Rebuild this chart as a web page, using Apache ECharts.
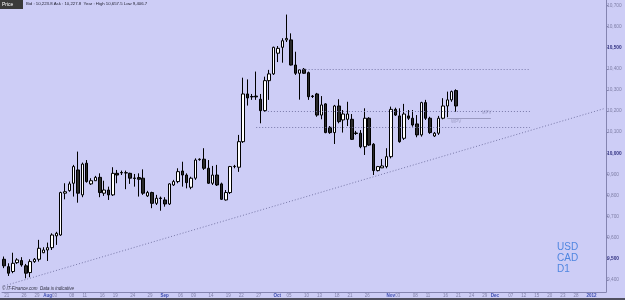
<!DOCTYPE html>
<html>
<head>
<meta charset="utf-8">
<script src="https://cdn.jsdelivr.net/npm/echarts@6/dist/echarts.min.js"></script>
<style>
  html, body { margin: 0; padding: 0; background: #cdcdf6; }
  #chart { width: 625px; height: 300px; }
</style>
</head>
<body>
<div id="chart"></div>
<script>
// daily bars (FX feed with Sunday bars), then empty future weekdays
var dates = [
  '2011-07-21','2011-07-22','2011-07-24','2011-07-25','2011-07-26','2011-07-27','2011-07-28','2011-07-29','2011-07-31',
  '2011-08-01','2011-08-02','2011-08-03','2011-08-04','2011-08-05','2011-08-07','2011-08-08','2011-08-09','2011-08-10',
  '2011-08-11','2011-08-12','2011-08-14','2011-08-15','2011-08-16','2011-08-17','2011-08-18','2011-08-19','2011-08-21',
  '2011-08-22','2011-08-23','2011-08-24','2011-08-25','2011-08-26','2011-08-28','2011-08-29','2011-08-30','2011-08-31',
  '2011-09-01','2011-09-02','2011-09-04','2011-09-05','2011-09-06','2011-09-07','2011-09-08','2011-09-09','2011-09-11',
  '2011-09-12','2011-09-13','2011-09-14','2011-09-15','2011-09-16','2011-09-18','2011-09-19','2011-09-20','2011-09-21',
  '2011-09-22','2011-09-23','2011-09-25','2011-09-26','2011-09-27','2011-09-28','2011-09-29','2011-09-30',
  '2011-10-02','2011-10-03','2011-10-04','2011-10-05','2011-10-06','2011-10-07','2011-10-09','2011-10-10','2011-10-11',
  '2011-10-12','2011-10-13','2011-10-14','2011-10-16','2011-10-17','2011-10-18','2011-10-19','2011-10-20','2011-10-21',
  '2011-10-23','2011-10-24','2011-10-25','2011-10-26','2011-10-27','2011-10-28','2011-10-30','2011-10-31',
  '2011-11-01','2011-11-02','2011-11-03','2011-11-04','2011-11-06','2011-11-07','2011-11-08','2011-11-09','2011-11-10',
  '2011-11-11','2011-11-13','2011-11-14','2011-11-15','2011-11-16','2011-11-17','2011-11-18','2011-11-21',
  '2011-11-22','2011-11-23','2011-11-24','2011-11-25','2011-11-28','2011-11-29','2011-11-30',
  '2011-12-01','2011-12-02','2011-12-05','2011-12-06','2011-12-07','2011-12-08','2011-12-09','2011-12-12','2011-12-13',
  '2011-12-14','2011-12-15','2011-12-16','2011-12-19','2011-12-20','2011-12-21','2011-12-22','2011-12-23','2011-12-26',
  '2011-12-27','2011-12-28','2011-12-29','2011-12-30',
  '2012-01-02','2012-01-03','2012-01-04','2012-01-05','2012-01-06'
];

var opens = [
  9498, 9463, 9440, 9482, 9492, 9467, 9435, 9487, 9498, 9529, 9542, 9553, 9609, 9613, 9811, 9823, 9858, 9921, 9803, 9953,
  9855, 9870, 9886, 9811, 9826, 9803, 9905, 9909, 9908, 9905, 9883, 9885, 9882, 9798, 9814, 9763, 9788, 9779, 9760, 9850,
  9866, 9916, 9897, 9839, 9882, 9970, 9972, 9929, 9858, 9897, 9855, 9779, 9814, 9937, 9934, 10055, 10281, 10269, 10271, 10256,
  10202, 10344, 10376, 10474, 10502, 10537, 10537, 10418, 10379, 10398, 10382, 10271, 10281, 10181, 10234, 10123, 10098, 10224, 10158, 10161,
  10161, 10096, 10095, 10031, 10166, 10043, 9918, 9931, 9937, 9984, 10208, 10177, 10071, 10177, 10166, 10139, 10087, 10240, 10166, 10082,
  10095, 10166, 10224, 10253, 10297
];
var closes = [
  9467, 9432, 9479, 9495, 9471, 9432, 9487, 9498, 9550, 9542, 9553, 9613, 9621, 9814, 9818, 9855, 9937, 9811, 9949, 9866,
  9870, 9886, 9814, 9826, 9803, 9905, 9897, 9907, 9907, 9882, 9881, 9877, 9811, 9814, 9763, 9787, 9786, 9760, 9855, 9866,
  9913, 9897, 9861, 9882, 9968, 9972, 9929, 9858, 9897, 9850, 9782, 9814, 9937, 9938, 10055, 10281, 10262, 10267, 10267, 10202,
  10344, 10376, 10502, 10497, 10533, 10544, 10418, 10379, 10395, 10379, 10268, 10269, 10181, 10229, 10098, 10098, 10224, 10150, 10186, 10186,
  10066, 10094, 10031, 10166, 10039, 9918, 9937, 9940, 9984, 10208, 10181, 10055, 10186, 10166, 10134, 10087, 10240, 10166, 10098, 10095,
  10166, 10224, 10253, 10292, 10224
];
var lows = [
  9456, 9419, 9432, 9476, 9463, 9408, 9413, 9481, 9487, 9527, 9490, 9542, 9566, 9609, 9782, 9818, 9795, 9766, 9792, 9861,
  9850, 9869, 9792, 9798, 9779, 9798, 9858, 9897, 9830, 9855, 9842, 9795, 9803, 9793, 9740, 9755, 9728, 9747, 9755, 9845,
  9858, 9842, 9834, 9830, 9874, 9965, 9921, 9855, 9850, 9845, 9779, 9776, 9807, 9929, 9912, 10049, 10226, 10253, 10253, 10142,
  10197, 10253, 10371, 10432, 10429, 10527, 10416, 10371, 10254, 10376, 10253, 10262, 10173, 10161, 10095, 10092, 10044, 10142, 10098, 10129,
  10063, 10087, 10024, 9992, 10035, 9897, 9914, 9930, 9929, 9976, 10177, 10050, 10063, 10158, 10126, 10076, 10079, 10158, 10092, 10077,
  10087, 10161, 10171, 10244, 10197
];
var highs = [
  9511, 9479, 9529, 9503, 9508, 9476, 9498, 9504, 9590, 9555, 9577, 9621, 9628, 9818, 9858, 9866, 9945, 10008, 9956, 9968,
  9882, 9893, 9905, 9870, 9842, 9934, 9921, 9918, 9918, 9908, 9902, 9905, 9924, 9822, 9818, 9803, 9795, 9792, 9858, 9874,
  9929, 9960, 9905, 9889, 9976, 9976, 10024, 9968, 9940, 9945, 9861, 9826, 9940, 9945, 10087, 10358, 10350, 10281, 10387, 10281,
  10363, 10395, 10505, 10508, 10545, 10657, 10568, 10481, 10398, 10404, 10387, 10276, 10286, 10271, 10237, 10129, 10229, 10256, 10205, 10244,
  10186, 10106, 10110, 10213, 10171, 10048, 9940, 9973, 10024, 10221, 10216, 10213, 10234, 10205, 10205, 10181, 10244, 10253, 10173, 10101,
  10177, 10261, 10292, 10297, 10303
];

var tickDates = [
  '2011-07-21','2011-07-26','2011-07-29','2011-08-01','2011-08-03','2011-08-08','2011-08-11','2011-08-16','2011-08-19',
  '2011-08-24','2011-08-29','2011-09-01','2011-09-06','2011-09-09','2011-09-14','2011-09-19','2011-09-22','2011-09-27',
  '2011-10-02','2011-10-05','2011-10-10','2011-10-13','2011-10-18','2011-10-21','2011-10-26','2011-11-01','2011-11-03',
  '2011-11-08','2011-11-11','2011-11-16','2011-11-21','2011-11-24','2011-11-29','2011-12-01','2011-12-07','2011-12-12',
  '2011-12-15','2011-12-20','2011-12-23','2011-12-28','2012-01-02'
];
var tickTexts = [
  '21','26','29','Aug','03','08','11','16','19',
  '24','29','Sep','06','09','14','19','22','27',
  'Oct','05','10','13','18','21','26','Nov','03',
  '08','11','16','21','24','29','Dec','07','12',
  '15','20','23','28','2012'
];
var priceTicks = [9400, 9500, 9600, 9700, 9800, 9900, 10000, 10100, 10200, 10300, 10400, 10500, 10600, 10700];

// dotted levels: [price, from, to]
var levelPrices = [10400, 10200, 10123];
var levelFrom = ['2011-10-09', '2011-09-29', '2011-09-27'];
var levelTo = '2011-12-14';
var trendPrices = [9372, 10211];
var lastPrice = 10223.8;
// pivot labels
var pivotNames = ['MPV', 'WPV'];
var pivotDates = ['2011-11-30', '2011-11-21'];
var pivotPrices = [10190, 10150];

var tickMap = {};
for (var t = 0; t < tickDates.length; t++) {
  var txt = tickTexts[t];
  tickMap[tickDates[t]] = /^\d\d$/.test(txt) ? txt : '{m|' + txt + '}';
}

var candles = [];
for (var i = 0; i < opens.length; i++) {
  candles.push([opens[i], closes[i], lows[i], highs[i]]);
}

var dotted = { color: '#7878a8', type: [1, 2], width: 1 };
var markLines = [];
for (var k = 0; k < levelPrices.length; k++) {
  markLines.push([
    { coord: [levelFrom[k], levelPrices[k]] },
    { coord: [levelTo, levelPrices[k]] }
  ]);
}
markLines.push([
  { coord: [dates[0], trendPrices[0]] },
  { coord: [dates[dates.length - 1], trendPrices[1]] }
]);
// WPV short solid line
markLines.push([
  { coord: ['2011-11-17', 10165], lineStyle: { type: 'solid', color: '#9a9ac0' } },
  { coord: ['2011-12-01', 10165] }
]);

var pivots = [];
for (var p = 0; p < pivotNames.length; p++) {
  pivots.push({ value: [pivotDates[p], pivotPrices[p]], name: pivotNames[p] });
}

var chart = echarts.init(document.getElementById('chart'));

var option = {
  backgroundColor: '#cdcdf6',
  animation: false,
  grid: { left: 2, right: 19, top: 0, bottom: 8 },
  xAxis: {
    type: 'category',
    data: dates,
    axisLine: { lineStyle: { color: '#8484b0' } },
    axisTick: {
      alignWithLabel: true,
      length: 2,
      interval: function (idx, v) { return !!tickMap[v]; },
      lineStyle: { color: '#8484b0' }
    },
    axisLabel: {
      interval: function (idx, v) { return !!tickMap[v]; },
      formatter: function (v) { return tickMap[v] || ''; },
      align: 'left',
      margin: 1,
      fontSize: 4.5,
      fontFamily: 'Liberation Sans',
      color: '#8080a8',
      rich: { m: { fontSize: 4.5, fontWeight: 'bold', color: '#3c4cb0', fontFamily: 'Liberation Sans' } }
    },
    splitLine: { show: false }
  },
  yAxis: {
    type: 'value',
    position: 'right',
    min: 9343,
    max: 10726,
    axisLine: { show: true, lineStyle: { color: '#8484b0' } },
    axisTick: { show: true, length: 2, customValues: priceTicks, lineStyle: { color: '#8484b0' } },
    axisLabel: {
      customValues: priceTicks,
      margin: 1,
      fontSize: 4.8,
      fontFamily: 'Liberation Sans',
      color: '#8080a8',
      formatter: function (v) {
        var s = v.toLocaleString('en-US');
        return v % 500 === 0 ? '{b|' + s + '}' : s;
      },
      rich: { b: { fontSize: 4.8, fontWeight: 'bold', color: '#303080', fontFamily: 'Liberation Sans' } }
    },
    splitLine: { show: false }
  },
  series: [{
    type: 'candlestick',
    data: candles,
    barWidth: 3,
    itemStyle: {
      color: '#ffffff',
      color0: '#2a2a2a',
      borderColor: '#000000',
      borderColor0: '#000000',
      borderWidth: 1
    },
    markLine: {
      silent: true,
      symbol: 'none',
      label: { show: false },
      lineStyle: dotted,
      data: markLines
    }
  }, {
    type: 'scatter',
    data: pivots,
    symbolSize: 0,
    silent: true,
    label: {
      show: true,
      position: 'inside',
      formatter: '{b}',
      color: '#9494bc',
      fontSize: 4.5,
      fontFamily: 'Liberation Sans'
    }
  }, {
    // current price tag on the right axis
    type: 'line',
    data: [],
    markLine: {
      silent: true,
      symbol: 'none',
      lineStyle: { opacity: 0 },
      label: {
        show: true, position: 'end', distance: 1,
        formatter: function () { return lastPrice.toLocaleString('en-US', { minimumFractionDigits: 1 }); },
        backgroundColor: '#f2cf1e', color: '#202020', fontSize: 4.5, fontWeight: 'bold',
        padding: [1, 1], fontFamily: 'Liberation Sans'
      },
      data: [{ yAxis: lastPrice }]
    }
  }],
  graphic: [
    { type: 'rect', left: 0, top: 0, shape: { width: 23, height: 9 }, style: { fill: '#3a3a3a' } },
    { type: 'text', left: 2, top: 2, style: { text: 'Price', fill: '#ffffff', fontSize: 5, fontFamily: 'Liberation Sans' } },
    { type: 'text', left: 26, top: 2, style: { text: 'Bid : 10,223.8 Ask : 10,227.8  Year : High 10,657.5 Low 9,406.7', fill: '#202030', fontSize: 4.3, fontFamily: 'Liberation Sans' } },
    { type: 'text', left: 2, top: 286, style: { text: '\u00a9 IT-Finance.com  Data is indicative', fill: '#303040', fontSize: 4.5, fontStyle: 'italic', fontFamily: 'Liberation Sans' } },
    { type: 'text', left: 557, top: 242, style: { text: 'USD\nCAD\nD1', fill: '#4f86e0', fontSize: 10, lineHeight: 11, fontFamily: 'Liberation Sans' } },
    { type: 'rect', left: 0, top: 298, shape: { width: 625, height: 2 }, style: { fill: '#505060' } }
  ]
};

chart.setOption(option);
</script>
</body>
</html>
